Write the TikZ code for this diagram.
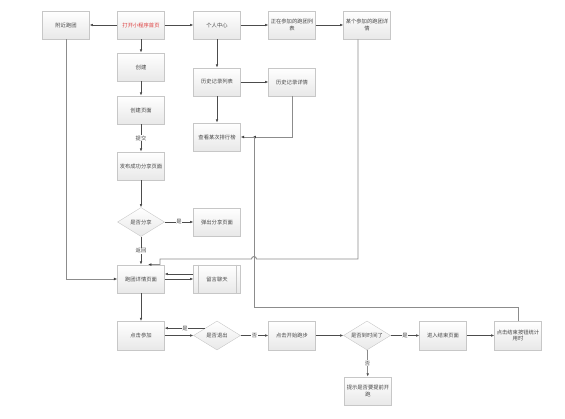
\documentclass[tikz,border=0pt]{standalone}
\usepackage{fontspec}
\newfontfamily\cjk{Noto Sans CJK SC}
\usetikzlibrary{shapes.geometric,arrows.meta,shadows}
\definecolor{homered}{RGB}{222,62,62}
\begin{document}
\begin{tikzpicture}[x=1pt,y=-1pt,
  every node/.style={font=\cjk\fontsize{5.3pt}{6.6pt}\selectfont, text=black!72},
  box/.style={rectangle, draw=black!22, line width=0.4pt, top color=white, bottom color=black!9,
    minimum width=47pt, minimum height=28.5pt, inner sep=1pt, align=center,
    drop shadow={opacity=0.18, shadow xshift=0.7pt, shadow yshift=-0.7pt}},
  dec/.style={diamond, aspect=1.62, draw=black!22, line width=0.4pt, top color=white, bottom color=black!9,
    minimum width=47pt, minimum height=29pt, inner sep=0pt},
  link/.style={draw=black!70, line width=0.55pt, -{Latex[length=3.2pt,width=2.6pt]}},
  elbow/.style={draw=black!45, line width=0.9pt, -{Latex[length=3.4pt,width=2.8pt,color=black!75]}},
  lab/.style={fill=white, inner sep=0.6pt}
]
\useasboundingbox (0,0) rectangle (565,419);

% row 1
\node[box] (nearby) at (66,25) {附近跑团};
\node[box, text=homered] (home) at (141,25) {打开小程序首页};
\node[box] (me) at (217,25) {个人中心};
\node[box] (joining) at (292,25) {正在参加的跑团列\\表};
\node[box] (joindet) at (367,25) {某个参加的跑团详\\情};
% left column
\node[box] (create) at (141,67) {创建};
\node[box] (createpg) at (141,110) {创建页面};
\node[box] (pub) at (141,166) {发布成功分享页面};
\node[dec] (share) at (141,222) {是否分享};
\node[box] (popup) at (217,222) {弹出分享页面};
\node[box] (detail) at (141,279) {跑团详情页面};
\node[box] (chat) at (217,279) {留言聊天};
\draw[black!22, line width=0.4pt] ([xshift=5pt]chat.north west) -- ([xshift=5pt]chat.south west);
\draw[black!22, line width=0.4pt] ([xshift=-5pt]chat.north east) -- ([xshift=-5pt]chat.south east);
% history
\node[box] (hist) at (217,82) {历史记录列表};
\node[box] (histdet) at (292,82) {历史记录详情};
\node[box] (rank) at (217,137) {查看某次排行榜};
% bottom row
\node[box] (join) at (141,335.5) {点击参加};
\node[dec] (quit) at (217,335.5) {是否退出};
\node[box] (start) at (292,335.5) {点击开始跑步};
\node[dec] (timeup) at (367,335.5) {是否到时间了};
\node[box] (endpg) at (443,335.5) {进入结束页面};
\node[box] (stop) at (518,335.5) {点击结束按钮统计\\用时};
\node[box] (hint) at (368,391) {提示是否要提前开\\跑};

% connectors
\draw[link] (home) -- (nearby);
\draw[link] (home) -- (me);
\draw[link] (home) -- (create);
\draw[link] (create) -- (createpg);
\draw[link] (createpg) -- (pub) node[lab, midway] {提交};
\draw[link] (pub) -- (share);
\draw[link] (share) -- (popup) node[lab, midway] {是};
\draw[link] (share) -- (detail) node[lab, midway] {返回};
\draw[elbow] (nearby.south) |- (detail.west);
\draw[link] (me) -- (joining);
\draw[link] (joining) -- (joindet);
\draw[link] (me) -- (hist);
\draw[link] (hist) -- (histdet);
\draw[link] (hist) -- (rank);

\coordinate (k1) at (254,307);
\coordinate (k2) at (252.5,137);
\draw[elbow] (histdet.south) |- (k2);
\draw[elbow] (stop.north) |- (k1) |- (rank.east);

\coordinate (h1) at (256.5,259);
\coordinate (r1) at (160,259);
\draw[elbow] ([xshift=-9pt]joindet.south) |- (h1)
  arc[start angle=0, end angle=180, radius=2.5pt] -- (r1) |- ([xshift=7pt]detail.north);

\draw[link] ([yshift=5pt]chat.west) -- ([yshift=5pt]detail.east);
\draw[link] (detail.east) -- (chat.west);
\draw[link] (detail) -- (join);
\draw[link] (quit.north west) -- (quit.north west -| join.east) node[lab, midway] {是};
\draw[link] (join.east) -- (quit.west);
\draw[link] (quit) -- (start) node[lab, midway] {否};
\draw[link] (start) -- (timeup);
\draw[link] (timeup) -- (endpg) node[lab, midway] {是};
\draw[link] (timeup) -- (hint) node[lab, midway] {否};
\draw[link] (endpg) -- (stop);
\end{tikzpicture}
\end{document}
